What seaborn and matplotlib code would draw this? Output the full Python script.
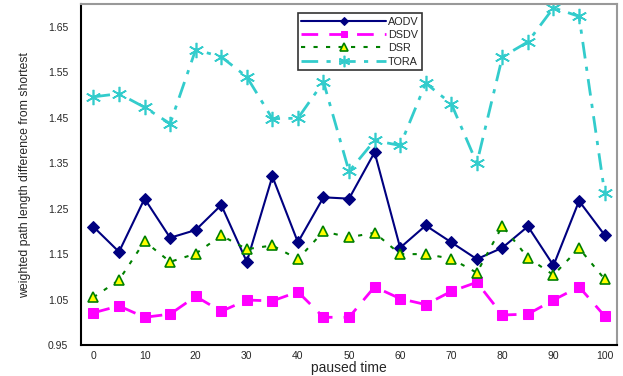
import matplotlib
matplotlib.use("Agg")
import matplotlib.pyplot as plt
import numpy as np
import pandas as pd
import seaborn as sns

# paused time (categories)
pause = list(range(0, 101, 5))

aodv = [1.210, 1.155, 1.272, 1.186, 1.203, 1.258, 1.133, 1.321, 1.176, 1.275, 1.272,
        1.374, 1.164, 1.213, 1.176, 1.139, 1.164, 1.211, 1.125, 1.267, 1.192]
dsdv = [1.021, 1.036, 1.011, 1.018, 1.057, 1.024, 1.049, 1.047, 1.067, 1.011, 1.011,
        1.078, 1.052, 1.039, 1.068, 1.088, 1.016, 1.018, 1.049, 1.078, 1.014]
dsr = [1.055, 1.093, 1.178, 1.133, 1.151, 1.191, 1.161, 1.169, 1.139, 1.200, 1.187,
       1.197, 1.150, 1.150, 1.140, 1.109, 1.212, 1.142, 1.104, 1.163, 1.095]
tora = [1.496, 1.503, 1.473, 1.437, 1.600, 1.584, 1.540, 1.448, 1.449, 1.529, 1.332,
        1.400, 1.389, 1.526, 1.481, 1.350, 1.584, 1.617, 1.692, 1.673, 1.285]

y_ticks = [0.95, 1.05, 1.15, 1.25, 1.35, 1.45, 1.55, 1.65]
x_labels = list(range(0, 101, 10))

sns.set_style("white")
plt.rcParams["font.family"] = ["Liberation Sans", "DejaVu Sans"]

fig = plt.figure(figsize=(6.23, 3.76), dpi=100)
ax = fig.add_axes([0.1295, 0.0824, 0.8615, 0.9066])

df = pd.DataFrame({"pause": pause, "AODV": aodv, "DSDV": dsdv, "DSR": dsr, "TORA": tora})

sns.lineplot(data=df, x="pause", y="AODV", ax=ax, color="#000080", lw=1.5,
             marker="D", markersize=6, markeredgecolor="#000080", label="AODV")
sns.lineplot(data=df, x="pause", y="DSDV", ax=ax, color="#FF00FF", lw=2,
             linestyle=(0, (6, 4)), marker="s", markersize=6.5,
             markeredgecolor="#FF00FF", label="DSDV")
sns.lineplot(data=df, x="pause", y="DSR", ax=ax, color="#008000", lw=1.5,
             linestyle=(0, (2, 4)), marker="^", markersize=7,
             markerfacecolor="#FFFF00", markeredgecolor="#008000",
             markeredgewidth=1.2, label="DSR")
sns.lineplot(data=df, x="pause", y="TORA", ax=ax, color="#33CCCC", lw=2,
             linestyle=(0, (6, 3, 1.5, 3)), marker=(6, 2, 0), markersize=11,
             markeredgecolor="#33CCCC", markeredgewidth=1.2, label="TORA")

ax.set_xlim(-2.5, 102.5)
ax.set_ylim(0.95, 1.70)

# tick marks on category boundaries, labels under every other point
ax.set_xticks(np.arange(-2.5, 103, 5))
ax.set_xticklabels([])
ax.set_xticks(x_labels, minor=True)
ax.set_xticklabels([str(v) for v in x_labels], minor=True, fontsize=7.5)
ax.tick_params(axis="x", which="major", direction="out", length=4, width=1, color="black")
ax.tick_params(axis="x", which="minor", length=0, pad=4)

ax.set_yticks(y_ticks)
ax.set_yticklabels([f"{v:.2f}" for v in y_ticks], fontsize=7.5)
ax.tick_params(axis="y", direction="out", length=3, width=1, color="black", pad=6)

ax.set_xlabel("paused time", fontsize=10, labelpad=0.5)
ax.set_ylabel("weighted path length difference from shortest", fontsize=8.8, labelpad=12)

for side in ["left", "bottom"]:
    ax.spines[side].set_color("black")
    ax.spines[side].set_linewidth(1.5)
for side in ["top", "right"]:
    ax.spines[side].set_color("#999999")
    ax.spines[side].set_linewidth(1.5)

leg = ax.legend(loc="upper left", bbox_to_anchor=(0.394, 0.99), fontsize=7.8,
                handlelength=7.8, numpoints=1, markerscale=0.75, frameon=True,
                fancybox=False, borderpad=0.35, labelspacing=0.3, handletextpad=0.2)
leg.get_frame().set_edgecolor("black")
leg.get_frame().set_linewidth(1.2)

ax.grid(False)
fig.savefig("out.png", dpi=100)
